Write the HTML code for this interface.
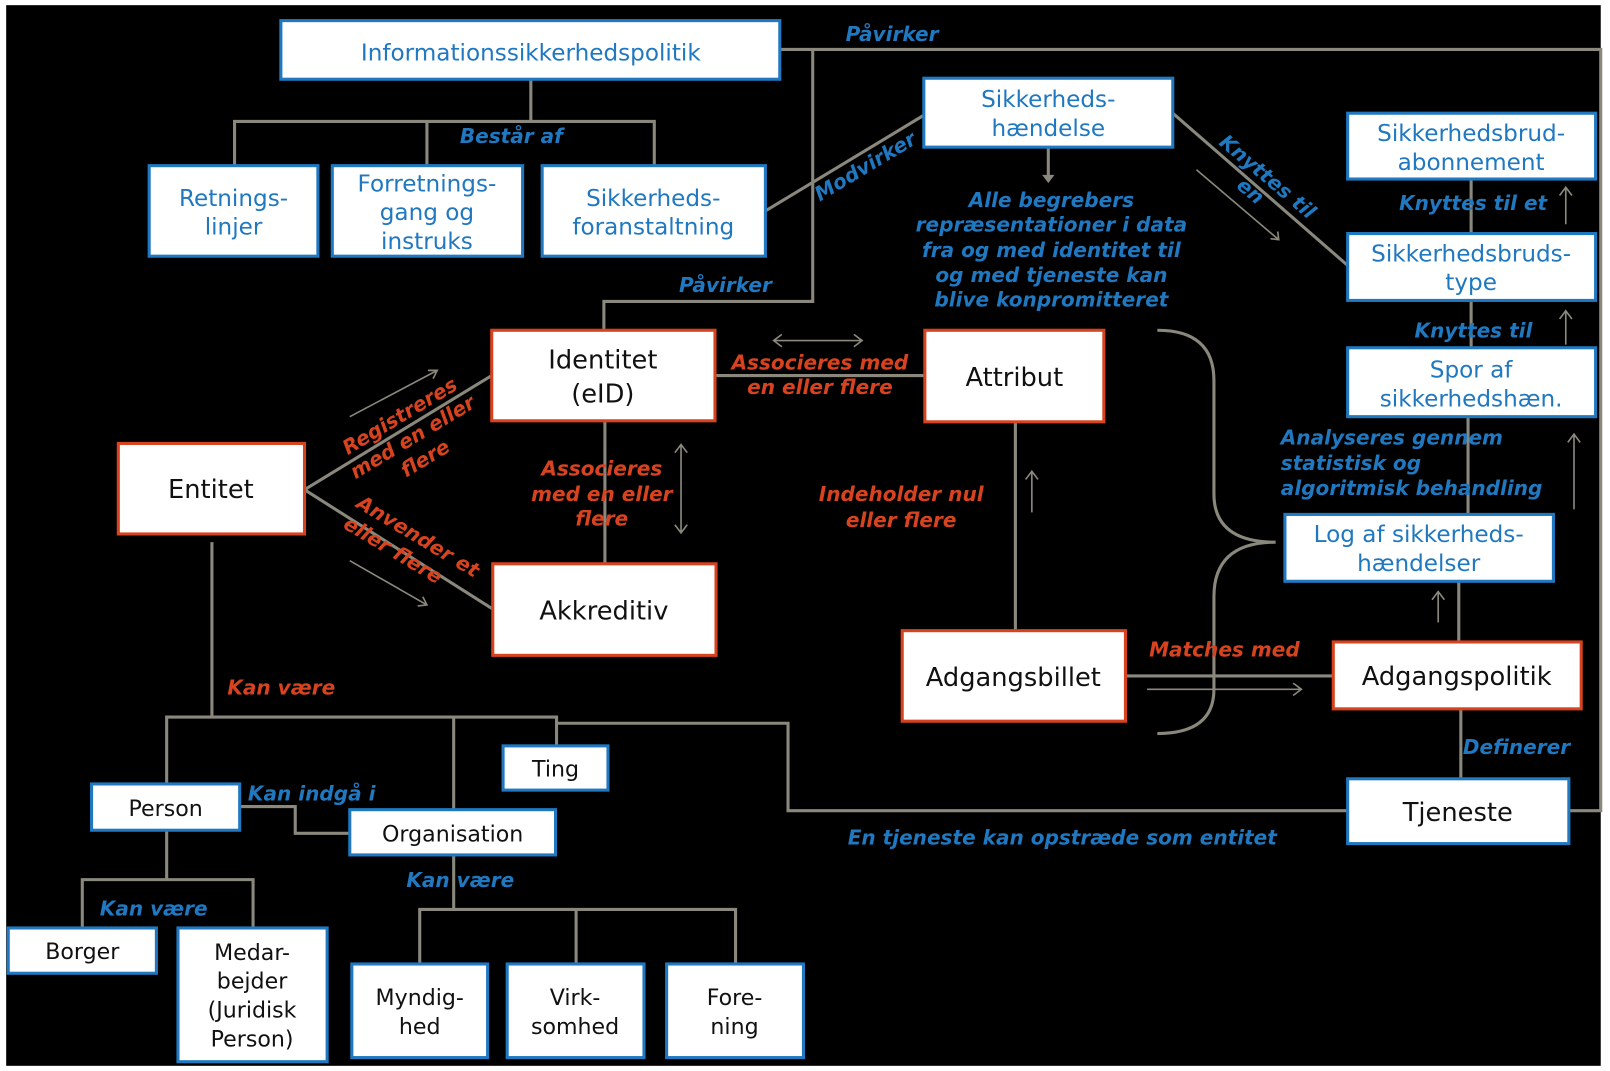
<!DOCTYPE html>
<html><head><meta charset="utf-8"><style>
html,body{margin:0;padding:0;background:#fff;width:1610px;height:1071px;overflow:hidden}
svg{display:block}
.b{fill:#fff;stroke:#1f78c0;stroke-width:3}
.r{fill:#fff;stroke:#d8431f;stroke-width:3}
.l{stroke:#8a887c;stroke-width:3;fill:none}
.a{stroke:#8a887c;stroke-width:1.6;fill:none}
text{font-family:"DejaVu Sans","Liberation Sans",sans-serif}
.tb{fill:#1f78c0;font-size:22.5px;text-anchor:middle}
.tk{fill:#111;font-size:25px;text-anchor:middle}
.tk2{fill:#111;font-size:21.5px;text-anchor:middle}
.lb{fill:#1f78c0;font-size:19.5px;font-weight:bold;font-style:italic}
.lr{fill:#d8431f;font-size:19.5px;font-weight:bold;font-style:italic}
</style></head><body>
<svg width="1610" height="1071" viewBox="0 0 1565 1041" xmlns="http://www.w3.org/2000/svg">
<rect x="0" y="0" width="1565" height="1041" fill="#fff"/>
<rect x="6" y="5" width="1550" height="1031" fill="#000"/>
<path class="l" d="M516 77V118M228 161V118H636V161M415 118V161"/>
<path class="l" d="M758 48H1556V788H1525"/>
<path class="l" d="M790 48V293H587V321"/>
<path class="l" d="M744 205L898 112"/>
<path class="l" d="M1019 143V176"/>
<path d="M1013 170L1019 178L1025 170Z" fill="#8a887c"/>
<path class="l" d="M1140 110L1310 258"/>
<path class="l" d="M1430 174V227M1430 292V338M1427 405V500M1418 565V624M1420 689V757"/>
<path class="l" d="M695 365H899M588 409V548M987 410V613M1094 657H1296"/>
<path class="l" d="M296 476L478 365M296 476L479 592"/>
<path class="l" d="M1125 321Q1180 321 1180 370V480Q1180 527 1240 527Q1180 527 1180 580V670Q1180 713 1125 713"/>
<path class="l" d="M206 527V697M162 762V697H541V725M441 697V787M541 703H766V788H1310"/>
<path class="l" d="M233 784H287V810H340"/>
<path class="l" d="M162 807V855M80 902V855H246V902"/>
<path class="l" d="M441 831V884M408 937V884H715V937M560 884V937"/>
<g class="a">
<path d="M1522 218V182M1516 190L1522 182L1528 190"/>
<path d="M1522 335V302M1516 310L1522 302L1528 310"/>
<path d="M1530 495V422M1524 430L1530 422L1536 430"/>
<path d="M1398 605V575M1392 583L1398 575L1404 583"/>
<path d="M1115 670H1265M1257 664L1265 670L1257 676"/>
<path d="M1003 498V458M997 466L1003 458L1009 466"/>
<path d="M752 331H838M760 325L752 331L760 337M830 325L838 331L830 337"/>
<path d="M662 432V518M656 440L662 432L668 440M656 510L662 518L668 510"/>
<path d="M340 405L425 360M416 360L425 360L421 368"/>
<path d="M340 545L415 588M406 589L415 588L411 580"/>
<path d="M1163 165L1243 233M1235 232L1243 233L1242 225"/>
</g>
<rect class="b" x="273" y="20" width="485" height="57"/>
<text class="tb" x="516" y="59" font-size="25.5">Informationssikkerhedspolitik</text>
<rect class="b" x="145" y="161" width="164" height="88"/>
<text class="tb" x="227" y="200">Retnings-</text><text class="tb" x="227" y="228">linjer</text>
<rect class="b" x="323" y="161" width="185" height="88"/>
<text class="tb" x="415" y="186">Forretnings-</text><text class="tb" x="415" y="214">gang og</text><text class="tb" x="415" y="242">instruks</text>
<rect class="b" x="527" y="161" width="217" height="88"/>
<text class="tb" x="635" y="200">Sikkerheds-</text><text class="tb" x="635" y="228">foranstaltning</text>
<rect class="b" x="898" y="76" width="242" height="67"/>
<text class="tb" x="1019" y="104">Sikkerheds-</text><text class="tb" x="1019" y="132">hændelse</text>
<rect class="b" x="1310" y="110" width="241" height="64"/>
<text class="tb" x="1430" y="137">Sikkerhedsbrud-</text><text class="tb" x="1430" y="165">abonnement</text>
<rect class="b" x="1310" y="227" width="241" height="65"/>
<text class="tb" x="1430" y="254">Sikkerhedsbruds-</text><text class="tb" x="1430" y="282">type</text>
<rect class="b" x="1310" y="338" width="241" height="67"/>
<text class="tb" x="1430" y="367">Spor af</text><text class="tb" x="1430" y="395">sikkerhedshæn.</text>
<rect class="b" x="1249" y="500" width="261" height="65"/>
<text class="tb" x="1379" y="527">Log af sikkerheds-</text><text class="tb" x="1379" y="555">hændelser</text>
<rect class="r" x="478" y="321" width="217" height="88"/>
<text class="tk" x="586" y="358">Identitet</text><text class="tk" x="586" y="391">(eID)</text>
<rect class="r" x="899" y="321" width="174" height="89"/>
<text class="tk" x="986" y="375">Attribut</text>
<rect class="r" x="115" y="431" width="181" height="88"/>
<text class="tk" x="205" y="484">Entitet</text>
<rect class="r" x="479" y="548" width="217" height="89"/>
<text class="tk" x="587" y="602">Akkreditiv</text>
<rect class="r" x="877" y="613" width="217" height="88"/>
<text class="tk" x="985" y="667">Adgangsbillet</text>
<rect class="r" x="1296" y="624" width="241" height="65"/>
<text class="tk" x="1416" y="666">Adgangspolitik</text>
<rect class="b" x="1310" y="757" width="215" height="63"/>
<text class="tk" x="1417" y="798">Tjeneste</text>
<rect class="b" x="489" y="725" width="102" height="43"/>
<text class="tk2" x="540" y="755">Ting</text>
<rect class="b" x="89" y="762" width="144" height="45"/>
<text class="tk2" x="161" y="793">Person</text>
<rect class="b" x="340" y="787" width="200" height="44"/>
<text class="tk2" x="440" y="818">Organisation</text>
<rect class="b" x="8" y="902" width="144" height="44"/>
<text class="tk2" x="80" y="932">Borger</text>
<rect class="b" x="173" y="902" width="145" height="130"/>
<text class="tk2" x="245" y="933">Medar-</text><text class="tk2" x="245" y="961">bejder</text><text class="tk2" x="245" y="989">(Juridisk</text><text class="tk2" x="245" y="1017">Person)</text>
<rect class="b" x="342" y="937" width="132" height="91"/>
<text class="tk2" x="408" y="977">Myndig-</text><text class="tk2" x="408" y="1005">hed</text>
<rect class="b" x="493" y="937" width="133" height="91"/>
<text class="tk2" x="559" y="977">Virk-</text><text class="tk2" x="559" y="1005">somhed</text>
<rect class="b" x="648" y="937" width="133" height="91"/>
<text class="tk2" x="714" y="977">Fore-</text><text class="tk2" x="714" y="1005">ning</text>
<text class="lb" x="822" y="40">Påvirker</text>
<text class="lb" x="447" y="139">Består af</text>
<text class="lb" x="660" y="284">Påvirker</text>
<text class="lb" transform="translate(797 196) rotate(-31)">Modvirker</text>
<text class="lb" transform="translate(1184 140) rotate(40)">Knyttes til</text>
<text class="lb" transform="translate(1201 182) rotate(40)">en</text>
<text class="lb" x="1022" y="201" text-anchor="middle">Alle begrebers</text>
<text class="lb" x="1022" y="225" text-anchor="middle">repræsentationer i data</text>
<text class="lb" x="1022" y="250" text-anchor="middle">fra og med identitet til</text>
<text class="lb" x="1022" y="274" text-anchor="middle">og med tjeneste kan</text>
<text class="lb" x="1022" y="298" text-anchor="middle">blive konpromitteret</text>
<text class="lb" x="1360" y="204">Knyttes til et</text>
<text class="lb" x="1375" y="328">Knyttes til</text>
<text class="lb" x="1245" y="432">Analyseres gennem</text>
<text class="lb" x="1245" y="457">statistisk og</text>
<text class="lb" x="1245" y="481">algoritmisk behandling</text>
<text class="lb" x="1422" y="733">Definerer</text>
<text class="lb" x="241" y="778">Kan indgå i</text>
<text class="lb" x="824" y="821">En tjeneste kan opstræde som entitet</text>
<text class="lb" x="97" y="890">Kan være</text>
<text class="lb" x="395" y="862">Kan være</text>
<text class="lr" x="797" y="359" text-anchor="middle">Associeres med</text>
<text class="lr" x="797" y="383" text-anchor="middle">en eller flere</text>
<text class="lr" x="585" y="462" text-anchor="middle">Associeres</text>
<text class="lr" x="585" y="487" text-anchor="middle">med en eller</text>
<text class="lr" x="585" y="511" text-anchor="middle">flere</text>
<text class="lr" x="876" y="487" text-anchor="middle">Indeholder nul</text>
<text class="lr" x="876" y="512" text-anchor="middle">eller flere</text>
<text class="lr" x="221" y="675">Kan være</text>
<text class="lr" x="1117" y="638">Matches med</text>
<g transform="translate(392 410) rotate(-31)">
<text class="lr" x="0" y="0" text-anchor="middle">Registreres</text>
<text class="lr" x="0" y="24" text-anchor="middle">med en eller</text>
<text class="lr" x="0" y="48" text-anchor="middle">flere</text>
</g>
<g transform="translate(403 527) rotate(31)">
<text class="lr" x="0" y="0" text-anchor="middle">Anvender et</text>
<text class="lr" x="-14" y="24" text-anchor="middle">eller flere</text>
</g>
</svg>
</body></html>
